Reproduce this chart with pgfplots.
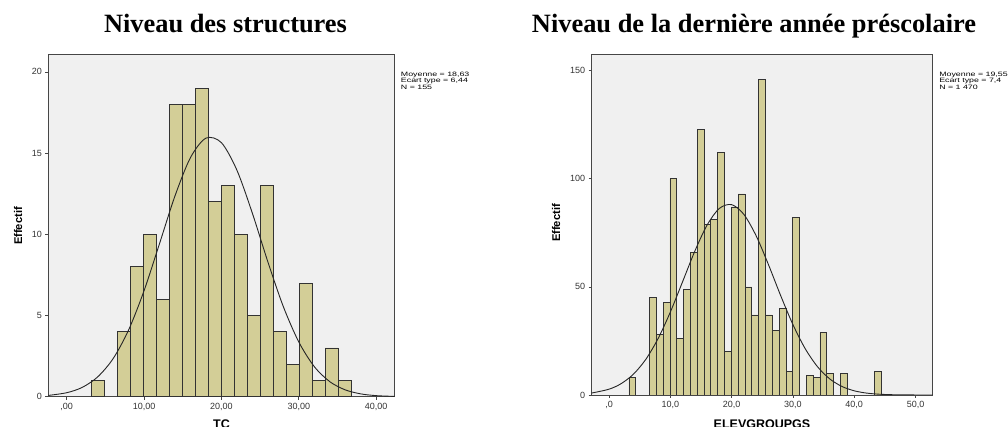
\documentclass[border=0pt]{standalone}
\usepackage{fontspec}
\setmainfont{Liberation Sans}
\newfontfamily\titlefont{Liberation Serif}
\usepackage{pgfplots}
\pgfplotsset{compat=1.18}

\definecolor{barfill}{RGB}{211,206,151}
\definecolor{bgfill}{RGB}{240,240,240}
\definecolor{framec}{RGB}{70,70,70}

\pgfplotsset{
  spss/.style={
    scale only axis,
    anchor=south west,
    axis background/.style={fill=bgfill},
    axis line style={framec, line width=0.8pt},
    tick style={framec, line width=0.6pt},
    tick align=outside,
    major tick length=3pt,
    xtick pos=left, ytick pos=left,
    enlargelimits=false,
    ymin=0,
    tick label style={font=\fontsize{9}{9}\selectfont, text=black!80},
    /pgf/number format/assume math mode=true,
  },
  histbar/.style={ybar, fill=barfill, draw=black!80, line width=0.7pt},
  normcurve/.style={black!85, line width=0.9pt, smooth, no marks},
}

\begin{document}
\begin{tikzpicture}[x=1pt, y=1pt]
\useasboundingbox (0,0) rectangle (1008,427);

% titles
\node[anchor=base, font={\titlefont\bfseries\fontsize{26.4}{30}\selectfont}] at (225.5,394) {Niveau des structures};
\node[anchor=base, font={\titlefont\bfseries\fontsize{26.4}{30}\selectfont}] at (754,394) {Niveau de la dernière année préscolaire};

% ---- TC histogram ----
\begin{axis}[spss,
  at={(48.3pt,30.3pt)}, width=346.2pt, height=342.7pt,
  xmin=-2.37, xmax=42.37, ymax=21.1,
  xtick={0,10,20,30,40}, xticklabels={{,00},{10,00},{20,00},{30,00},{40,00}},
  ytick={0,5,10,15,20},
]
\addplot[histbar, bar width=1.677] coordinates {
  (4.0685,1) (7.4225,4) (9.0995,8) (10.7765,10) (12.4535,6)
  (14.1305,18) (15.8075,18) (17.4845,19) (19.1615,12) (20.8385,13)
  (22.5155,10) (24.1925,5) (25.8695,13) (27.5465,4) (29.2235,2)
  (30.9005,7) (32.5775,1) (34.2545,3) (35.9315,1)
};
% normal curve, mean 18,63 / sd 6,44, scaled to the bin width
\addplot[normcurve] coordinates {
  (-2.37,0.079) (0,0.244) (2,0.570) (4,1.213) (6,2.339) (8,4.098)
  (10,6.52) (12,9.42) (14,12.36) (16,14.72) (18,15.92)
  (20,15.64) (22,13.95) (24,11.30) (26,8.31) (28,5.55) (30,3.37)
  (32,1.855) (34,0.928) (36,0.421) (38,0.174) (40,0.065) (42.37,0.018)
};
\end{axis}

\node[rotate=90, font=\bfseries\fontsize{11.2}{12}\selectfont] at (18,201) {Effectif};
\node[anchor=base, font=\bfseries\fontsize{12.5}{13}\selectfont] at (221.5,-1.5) {TC};
\node[anchor=north west, align=left, inner sep=0pt, xscale=1.4,
      font=\fontsize{6.3}{5.4}\selectfont] at (400.7,355.3)
  {Moyenne = 18,63\\Ecart type = 6,44\\N = 155};

% ---- ELEVGROUPGS histogram ----
\begin{axis}[spss,
  at={(591.7pt,32pt)}, width=340.8pt, height=341pt,
  xmin=-2.83, xmax=52.77, ymax=157.7,
  xtick={0,10,20,30,40,50}, xticklabels={{,0},{10,0},{20,0},{30,0},{40,0},{50,0}},
  ytick={0,50,100,150},
]
\addplot[histbar, bar width=1.113] coordinates {
  (3.8065,8) (7.1455,45) (8.2585,28) (9.3715,43) (10.4845,100)
  (11.5975,26) (12.7105,49) (13.8235,66) (14.9365,123) (16.0495,79)
  (17.1625,81) (18.2755,112) (19.3885,20) (20.5015,87) (21.6145,93)
  (22.7275,50) (23.8405,37) (24.9535,146) (26.0665,37) (27.1795,30)
  (28.2925,40) (29.4055,11) (30.5185,82) (32.7445,9) (33.8575,8)
  (34.9705,29) (36.0835,10) (38.3095,10) (43.8745,11)
};
% normal curve, mean 19,55 / sd 7,4, scaled to the bin width
\addplot[normcurve] coordinates {
  (-2.83,0.911) (0,2.69) (2,5.30) (4,9.69) (6,16.50) (8,26.09)
  (10,38.36) (12,52.41) (14,66.57) (16,78.61) (18,86.29) (20,88.04)
  (22,83.50) (24,73.61) (26,60.33) (28,45.95) (30,32.55)
  (32,21.42) (34,13.11) (36,7.45) (38,3.94) (40,1.94) (42,0.885)
  (44,0.376) (46,0.148) (48,0.054) (50,0.019) (52.77,0.005)
};
\end{axis}

\node[rotate=90, font=\bfseries\fontsize{11.2}{12}\selectfont] at (556,204) {Effectif};
\node[anchor=base, font=\bfseries\fontsize{12.5}{13}\selectfont] at (762,-1.5) {ELEVGROUPGS};
\node[anchor=north west, align=left, inner sep=0pt, xscale=1.4,
      font=\fontsize{6.3}{5.4}\selectfont] at (939,355.3)
  {Moyenne = 19,55\\Ecart type = 7,4\\N = 1 470};
\end{tikzpicture}
\end{document}
